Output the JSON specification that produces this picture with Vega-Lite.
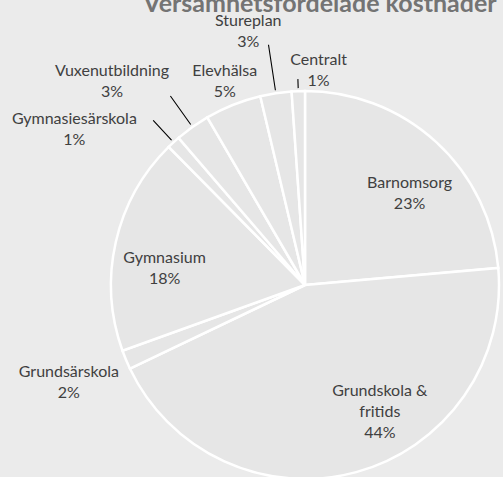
{
  "$schema": "https://vega.github.io/schema/vega-lite/v6.json",
  "width": 388,
  "height": 388,
  "autosize": "none",
  "padding": {"left": 111, "top": 91, "right": 4, "bottom": 0},
  "background": "#ebebeb",
  "config": {
    "view": {"stroke": null},
    "text": {"font": "Lato", "fontSize": 16, "fill": "#404040", "lineBreak": "\n", "lineHeight": 21, "align": "center", "baseline": "middle"}
  },
  "title": {
    "text": "Versamhetsfördelade kostnader",
    "font": "Lato",
    "fontSize": 25,
    "fontWeight": "bold",
    "color": "#747474",
    "baseline": "alphabetic",
    "frame": "group",
    "offset": 0,
    "dx": 15,
    "dy": 24,
    "anchor": "middle"
  },
  "data": {
    "values": [
      {"category": "Barnomsorg", "value": 23.6, "order": 1, "label": "Barnomsorg\n23%"},
      {"category": "Grundskola & fritids", "value": 44.3, "order": 2, "label": "Grundskola &\nfritids\n44%"},
      {"category": "Grundsärskola", "value": 1.6, "order": 3, "label": "Grundsärskola\n2%"},
      {"category": "Gymnasium", "value": 18.1, "order": 4, "label": "Gymnasium\n18%"},
      {"category": "Gymnasiesärskola", "value": 1.1, "order": 5, "label": "Gymnasiesärskola\n1%"},
      {"category": "Vuxenutbildning", "value": 2.9, "order": 6, "label": "Vuxenutbildning\n3%"},
      {"category": "Elevhälsa", "value": 4.7, "order": 7, "label": "Elevhälsa\n5%"},
      {"category": "Stureplan", "value": 2.6, "order": 8, "label": "Stureplan\n3%"},
      {"category": "Centralt", "value": 1.1, "order": 9, "label": "Centralt\n1%"}
    ]
  },
  "transform": [
    {"window": [{"op": "sum", "field": "value", "as": "cend"}], "sort": [{"field": "order"}], "frame": [null, 0]},
    {"window": [{"op": "mean", "field": "cend", "as": "cmid"}], "sort": [{"field": "order"}], "frame": [-1, 0]}
  ],
  "layer": [
    {
      "mark": {"type": "arc", "outerRadius": 194, "fill": "#e6e6e6", "stroke": "#ffffff", "strokeWidth": 2.5},
      "encoding": {
        "theta": {"field": "value", "type": "quantitative", "stack": true, "scale": {"domain": [0, 100]}},
        "order": {"field": "order", "type": "quantitative"}
      }
    },
    {
      "transform": [{"filter": {"field": "category", "equal": "Gymnasiesärskola"}}],
      "mark": {"type": "arc", "innerRadius": 197, "outerRadius": 224, "stroke": "#000000", "strokeWidth": 1.1, "fill": null},
      "encoding": {"theta": {"field": "cmid", "type": "quantitative", "stack": null, "scale": {"domain": [0, 100]}}, "theta2": {"field": "cmid"}}
    },
    {
      "transform": [{"filter": {"field": "category", "equal": "Vuxenutbildning"}}],
      "mark": {"type": "arc", "innerRadius": 197, "outerRadius": 232, "stroke": "#000000", "strokeWidth": 1.1, "fill": null},
      "encoding": {"theta": {"field": "cmid", "type": "quantitative", "stack": null, "scale": {"domain": [0, 100]}}, "theta2": {"field": "cmid"}}
    },
    {
      "transform": [{"filter": {"field": "category", "equal": "Stureplan"}}],
      "mark": {"type": "arc", "innerRadius": 197, "outerRadius": 243, "stroke": "#000000", "strokeWidth": 1.1, "fill": null},
      "encoding": {"theta": {"field": "cmid", "type": "quantitative", "stack": null, "scale": {"domain": [0, 100]}}, "theta2": {"field": "cmid"}}
    },
    {
      "transform": [{"filter": {"field": "category", "equal": "Centralt"}}],
      "mark": {"type": "arc", "innerRadius": 197, "outerRadius": 206, "stroke": "#000000", "strokeWidth": 1.1, "fill": null},
      "encoding": {"theta": {"field": "cmid", "type": "quantitative", "stack": null, "scale": {"domain": [0, 100]}}, "theta2": {"field": "cmid"}}
    },
    {
      "transform": [{"filter": {"field": "category", "equal": "Barnomsorg"}}],
      "mark": {"type": "text", "radius": 140, "dx": 10, "dy": 1.5},
      "encoding": {"theta": {"field": "value", "type": "quantitative", "stack": true}, "order": {"field": "order", "type": "quantitative"}, "text": {"field": "label"}}
    },
    {
      "transform": [{"filter": {"field": "category", "equal": "Grundskola & fritids"}}],
      "mark": {"type": "text", "radius": 132, "dx": 40, "dy": -21},
      "encoding": {"theta": {"field": "cmid", "type": "quantitative", "stack": null}, "text": {"field": "label"}}
    },
    {
      "transform": [{"filter": {"field": "category", "equal": "Grundsärskola"}}],
      "mark": {"type": "text", "radius": 257, "dx": 1, "dy": -12.5},
      "encoding": {"theta": {"field": "cmid", "type": "quantitative", "stack": null}, "text": {"field": "label"}}
    },
    {
      "transform": [{"filter": {"field": "category", "equal": "Gymnasium"}}],
      "mark": {"type": "text", "radius": 144, "dx": 0, "dy": 4.5},
      "encoding": {"theta": {"field": "cmid", "type": "quantitative", "stack": null}, "text": {"field": "label"}}
    },
    {
      "transform": [{"filter": {"field": "category", "equal": "Gymnasiesärskola"}}],
      "mark": {"type": "text", "radius": 240, "dx": -68, "dy": 10.5},
      "encoding": {"theta": {"field": "cmid", "type": "quantitative", "stack": null}, "text": {"field": "label"}}
    },
    {
      "transform": [{"filter": {"field": "category", "equal": "Vuxenutbildning"}}],
      "mark": {"type": "text", "radius": 250, "dx": -48, "dy": -10.5},
      "encoding": {"theta": {"field": "cmid", "type": "quantitative", "stack": null}, "text": {"field": "label"}}
    },
    {
      "transform": [{"filter": {"field": "category", "equal": "Elevhälsa"}}],
      "mark": {"type": "text", "radius": 219, "dx": 1, "dy": -10.5},
      "encoding": {"theta": {"field": "cmid", "type": "quantitative", "stack": null}, "text": {"field": "label"}}
    },
    {
      "transform": [{"filter": {"field": "category", "equal": "Stureplan"}}],
      "mark": {"type": "text", "radius": 258, "dx": -18, "dy": -9},
      "encoding": {"theta": {"field": "cmid", "type": "quantitative", "stack": null}, "text": {"field": "label"}}
    },
    {
      "transform": [{"filter": {"field": "category", "equal": "Centralt"}}],
      "mark": {"type": "text", "radius": 215, "dx": 21, "dy": -10.5},
      "encoding": {"theta": {"field": "cmid", "type": "quantitative", "stack": null}, "text": {"field": "label"}}
    }
  ]
}
